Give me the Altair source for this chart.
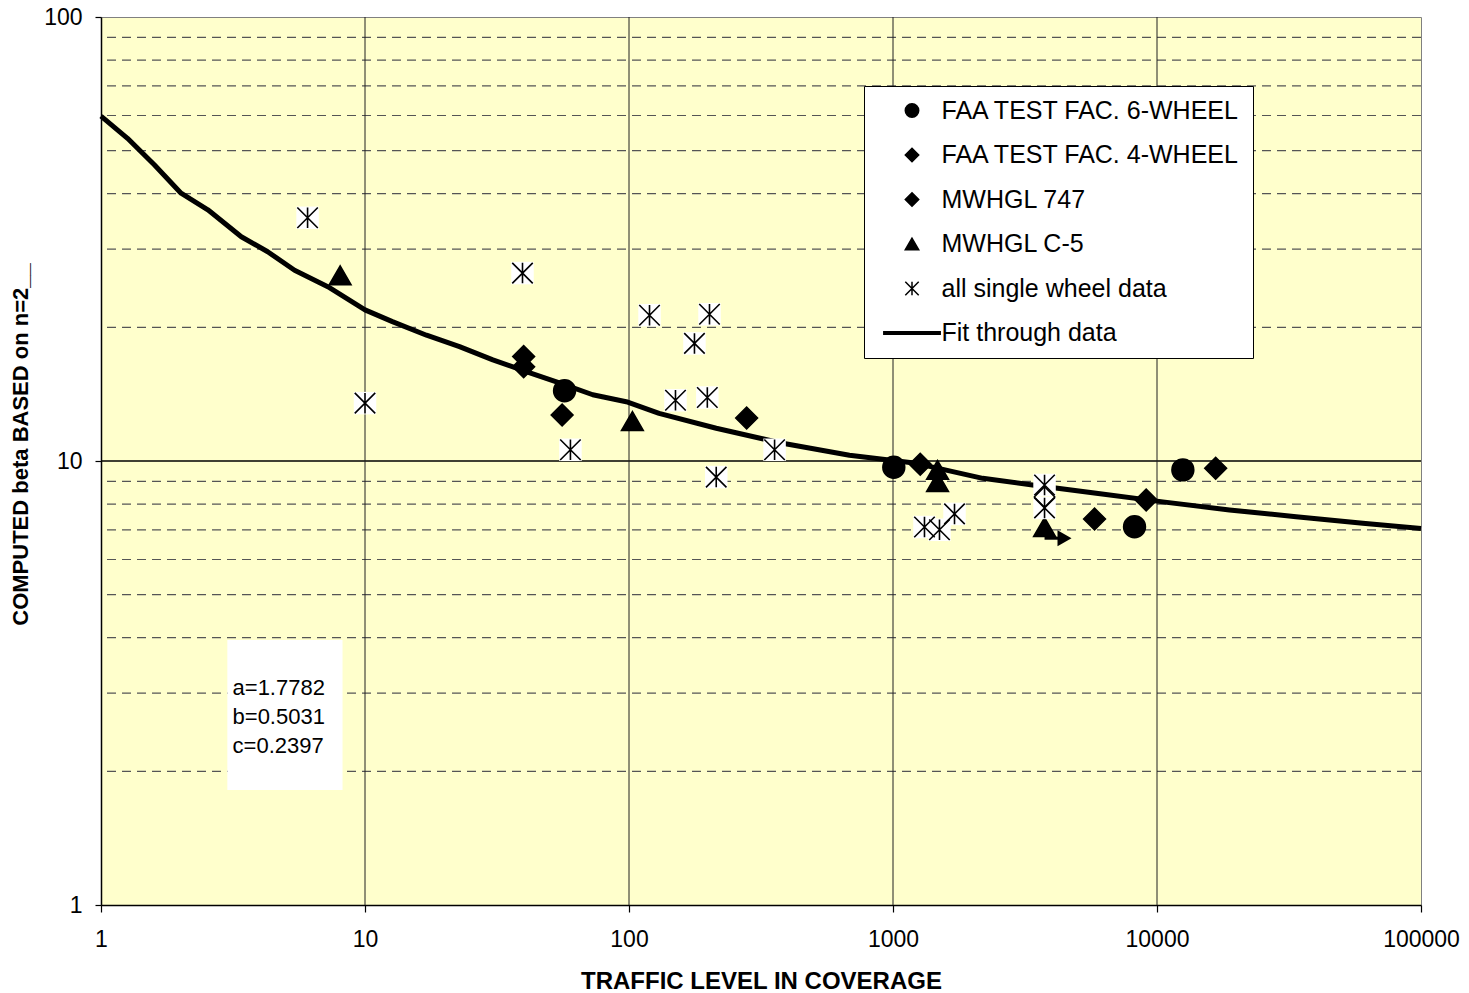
import altair as alt
import pandas as pd

FONT = "Liberation Sans"

# ---------------------------------------------------------------- data
series_names = [
    "FAA TEST FAC. 6-WHEEL",
    "FAA TEST FAC. 4-WHEEL",
    "MWHGL 747",
    "MWHGL C-5",
    "all single wheel data",
    "Fit through data",
]

six_wheel_cov = [57, 1007, 8220, 12530]
six_wheel_beta = [14.4, 9.68, 7.11, 9.55]

four_wheel_cov = [1268, 5800, 9100, 16680]
four_wheel_beta = [9.83, 7.40, 8.17, 9.63]

b747_cov = [39.9, 39.9, 55.8, 279]
b747_beta = [17.2, 16.3, 12.7, 12.5]

c5_cov = [8.05, 103, 1475, 1475, 3750]
c5_beta = [26.2, 12.3, 9.55, 8.97, 7.10]

single_cov = [6.06, 10, 39.5, 119.6, 201.8, 177, 150, 198, 60, 214, 356,
              1316, 1500, 1710, 3750, 3750]
single_beta = [35.3, 13.5, 26.5, 21.3, 21.4, 18.4, 13.7, 13.9, 10.6, 9.2, 10.6,
               7.10, 7.00, 7.60, 8.83, 7.84]

# 747 point drawn open, on top of the two single-wheel boxes
open_cov = [3750]
open_beta = [8.30]

# run-out arrow next to the last C-5 point
arrow_cov = [3750]
arrow_cov_end = [4306]
arrow_head_cov = [4463]
arrow_beta = [6.70]

# fitted curve
fit_cov = [1, 1.26, 1.595, 2.01, 2.54, 3.40, 4.28, 5.41, 7.23, 10, 12.7, 17.1,
           22.8, 30.5, 40.8, 54.5, 72.9, 97.6, 130, 214, 382, 684, 1224, 2188,
           3375, 5888, 10520, 18820, 33650, 60200, 100000]
fit_beta = [59.8, 53.3, 46.4, 40.1, 36.8, 32.0, 29.6, 26.9, 24.7, 21.9, 20.6,
            19.2, 18.1, 16.9, 15.9, 15.0, 14.1, 13.6, 12.8, 11.85, 10.96, 10.3,
            9.88, 9.14, 8.83, 8.46, 8.09, 7.76, 7.49, 7.24, 7.05]

# coefficient box
coef_lines = ["a=1.7782", "b=0.5031", "c=0.2397"]
coef_cov = [3.15, 3.15, 3.15]
coef_beta = [3.08, 2.65, 2.28]
coef_box_cov = [3.01]
coef_box_cov2 = [8.22]
coef_box_beta = [3.95]
coef_box_beta2 = [1.815]

# grid
x_ticks = [1, 10, 100, 1000, 10000, 100000]
y_ticks = [1, 10, 100]
decade_cov = [10, 100, 1000, 10000]
major_beta = [10]
minor_beta = [2, 3, 4, 5, 6, 7, 8, 9, 20, 30, 40, 50, 60, 70, 80, 90]

# ---------------------------------------------------------------- tables
markers = pd.DataFrame({
    "cov": six_wheel_cov + four_wheel_cov + b747_cov + c5_cov,
    "beta": six_wheel_beta + four_wheel_beta + b747_beta + c5_beta,
    "series": [series_names[0]] * len(six_wheel_cov)
    + [series_names[1]] * len(four_wheel_cov)
    + [series_names[2]] * len(b747_cov)
    + [series_names[3]] * len(c5_cov),
})
singles = pd.DataFrame({"cov": single_cov, "beta": single_beta})
opens = pd.DataFrame({"cov": open_cov, "beta": open_beta})
fit = pd.DataFrame({"cov": fit_cov, "beta": fit_beta})
arrow = pd.DataFrame({"cov": arrow_cov, "cov2": arrow_cov_end, "beta": arrow_beta})
arrow_head = pd.DataFrame({"cov": arrow_head_cov, "beta": arrow_beta})
coef_text = pd.DataFrame({"cov": coef_cov, "beta": coef_beta, "label": coef_lines})
coef_box = pd.DataFrame({"cov": coef_box_cov, "cov2": coef_box_cov2,
                         "beta": coef_box_beta, "beta2": coef_box_beta2})
vgrid = pd.DataFrame({"cov": decade_cov})
hmajor = pd.DataFrame({"beta": major_beta})
hminor = pd.DataFrame({"beta": minor_beta})

# ---------------------------------------------------------------- scales / axes
x_scale = alt.Scale(type="log", domain=[1, 100000], nice=False)
y_scale = alt.Scale(type="log", domain=[1, 100], nice=False)

x_axis = alt.Axis(
    values=x_ticks, format="d", grid=False, labelFlush=False, labelOverlap=False,
    domainColor="black", domainWidth=1.5, tickColor="black", tickSize=7, tickWidth=1.2,
    labelFont=FONT, labelFontSize=23, labelColor="black", labelPadding=16,
    titleFont=FONT, titleFontSize=24, titleFontWeight="bold", titleColor="black",
    titleX=660, titleY=83, titleAlign="center", titleBaseline="alphabetic",
)
y_axis = alt.Axis(
    values=y_ticks, format="d", grid=False, labelFlush=False, labelOverlap=False,
    domainColor="black", domainWidth=1.5, tickColor="black", tickSize=6, tickWidth=1.2,
    labelFont=FONT, labelFontSize=23, labelColor="black", labelPadding=13,
    titleFont=FONT, titleFontSize=22, titleFontWeight="bold", titleColor="black",
    titleAngle=270, titleX=-74, titleY=427, titleAlign="center",
    titleBaseline="alphabetic",
)

X = alt.X("cov:Q", scale=x_scale, axis=x_axis, title="TRAFFIC LEVEL IN COVERAGE")
Y = alt.Y("beta:Q", scale=y_scale, axis=y_axis, title="COMPUTED beta BASED on n=2__")

STAR = "M0,-1L0,1M-1,-1L1,1M-1,1L1,-1"
BAR = "M-4.2,-0.2L4.2,-0.2L4.2,0.2L-4.2,0.2Z"

# ---------------------------------------------------------------- layers
minor_rules = alt.Chart(hminor).mark_rule(
    color="#555555", strokeWidth=1.2, strokeDash=[9, 6]
).encode(y=Y)

major_rule = alt.Chart(hmajor).mark_rule(color="black", strokeWidth=1.5).encode(y=Y)

decade_rules = alt.Chart(vgrid).mark_rule(color="#202020", strokeWidth=1).encode(x=X)

box = alt.Chart(coef_box).mark_rect(color="white", opacity=1).encode(
    x=X, x2=alt.X2("cov2"), y=Y, y2=alt.Y2("beta2")
)

coef = alt.Chart(coef_text).mark_text(
    align="left", baseline="middle", font=FONT, fontSize=22, color="black"
).encode(x=X, y=Y, text="label:N")

fit_line = alt.Chart(fit).mark_line(
    color="black", strokeWidth=5, strokeJoin="round"
).encode(x=X, y=Y)

points = alt.Chart(markers).mark_point(
    filled=True, fill="black", stroke="black", strokeWidth=1.5, size=480, opacity=1
).encode(
    x=X,
    y=Y,
    shape=alt.Shape(
        "series:N",
        scale=alt.Scale(
            domain=series_names,
            range=["circle", "diamond", "diamond", "triangle-up", STAR, BAR],
        ),
        legend=alt.Legend(
            title=None, orient="none", legendX=763, legendY=69, direction="vertical",
            fillColor="white", strokeColor="black", padding=12, rowPadding=18.5,
            labelFont=FONT, labelFontSize=25, labelColor="black", labelLimit=500,
            symbolSize=180, symbolOffset=23.5, labelOffset=17,
        ),
    ),
)

arrow_line = alt.Chart(arrow).mark_rule(color="black", strokeWidth=3).encode(
    x=X, x2=alt.X2("cov2"), y=Y
)
arrow_tip = alt.Chart(arrow_head).mark_point(
    shape="triangle-right", filled=True, color="black", size=260, opacity=1
).encode(x=X, y=Y)

single_boxes = alt.Chart(singles).mark_point(
    shape="square", filled=True, color="white", size=506, opacity=1
).encode(x=X, y=Y)

single_stars = alt.Chart(singles).mark_point(
    shape=STAR, filled=False, color="black", strokeWidth=1.6, size=420, opacity=1
).encode(x=X, y=Y)

open_points = alt.Chart(opens).mark_point(
    shape="diamond", filled=False, color="black", strokeWidth=1.5, size=420, opacity=1
).encode(x=X, y=Y)

chart = alt.layer(
    minor_rules, major_rule, decade_rules, box, coef, fit_line, points,
    arrow_line, arrow_tip, single_boxes, single_stars, open_points,
).properties(
    width=1320,
    height=888,
    padding={"left": 101, "top": 17, "right": 48, "bottom": 88},
    autosize=alt.AutoSizeParams(type="none"),
    background="white",
).configure_view(
    fill="#FFFFCC", stroke="#808080", strokeWidth=1
)

chart.save("out.html", embed_options={"renderer": "svg", "actions": False})
